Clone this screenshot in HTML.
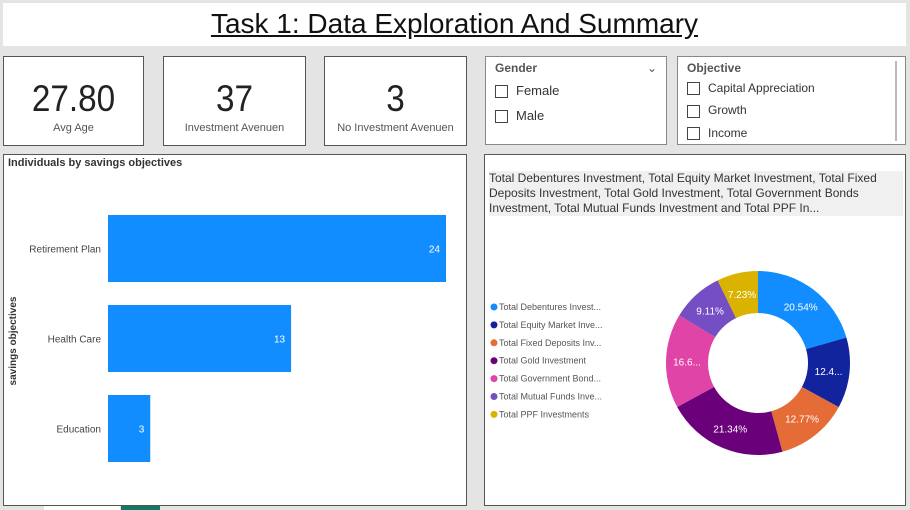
<!DOCTYPE html>
<html><head><meta charset="utf-8"><style>
body{margin:0;width:910px;height:510px;background:#e4e4e4;font-family:"Liberation Sans",sans-serif;position:relative;overflow:hidden}
.abs{position:absolute;box-sizing:border-box}
.card{background:#fff;border:1px solid #555;text-align:center}
.big{font-size:37px;color:#222;margin-top:22px;line-height:40px;transform:scaleX(0.9)}
.lab{font-size:11px;color:#555;margin-top:3px}
.chk{display:inline-block;width:11px;height:11px;border:1px solid #444;vertical-align:middle;margin-right:8px;background:#fff}
</style></head><body>
<div class="abs" style="left:3px;top:3px;width:903px;height:43px;background:#fff;text-align:center;font-size:28px;line-height:42px;color:#111;text-decoration:underline">Task 1: Data Exploration And Summary</div>

<div class="abs card" style="left:3px;top:56px;width:141px;height:90px"><div class="big">27.80</div><div class="lab">Avg Age</div></div>
<div class="abs card" style="left:163px;top:56px;width:143px;height:90px"><div class="big">37</div><div class="lab">Investment Avenuen</div></div>
<div class="abs card" style="left:324px;top:56px;width:143px;height:90px"><div class="big">3</div><div class="lab">No Investment Avenuen</div></div>

<div class="abs" style="left:485px;top:56px;width:182px;height:89px;background:#fff;border:1px solid #888;padding:4px 9px;font-size:13px;color:#333">
<div style="font-weight:bold;font-size:12px;color:#555">Gender<span style="float:right;font-weight:normal">&#8964;</span></div>
<div style="margin-top:8px"><span class="chk"></span>Female</div>
<div style="margin-top:10px"><span class="chk"></span>Male</div></div>

<div class="abs" style="left:677px;top:56px;width:229px;height:89px;background:#fff;border:1px solid #888;padding:4px 9px;font-size:12px;color:#333">
<div style="font-weight:bold;color:#555">Objective</div>
<div style="margin-top:6px"><span class="chk"></span>Capital Appreciation</div>
<div style="margin-top:8px"><span class="chk"></span>Growth</div>
<div style="margin-top:8px"><span class="chk"></span>Income</div>
<div class="abs" style="right:8px;top:4px;width:2px;height:80px;background:#bbb"></div></div>

<div class="abs" style="left:3px;top:154px;width:464px;height:352px;background:#fff;border:1px solid #555">
<div style="position:absolute;left:4px;top:2px;font-size:11px;font-weight:bold;color:#333">Individuals by savings objectives</div>
<svg id="bars" width="462" height="350" style="position:absolute;left:0;top:0"></svg></div>

<div class="abs" style="left:484px;top:154px;width:422px;height:352px;background:#fff;border:1px solid #555">
<div style="position:absolute;left:4px;top:16px;width:414px;font-size:12px;line-height:15px;color:#333;background:#f0f0f0">Total Debentures Investment, Total Equity Market Investment, Total Fixed Deposits Investment, Total Gold Investment, Total Government Bonds Investment, Total Mutual Funds Investment and Total PPF In...</div>
<svg id="donut" width="420" height="350" style="position:absolute;left:0;top:0"></svg></div>
<div class="abs" style="left:44px;top:506px;width:76px;height:4px;background:#fff"></div>
<div class="abs" style="left:121px;top:506px;width:39px;height:4px;background:#117865"></div>

<script>
const NS="http://www.w3.org/2000/svg";
const barCats=["Retirement Plan","Health Care","Education"];
const barVals=[24,13,3];
const sliceLabels=["Total Debentures Invest...","Total Equity Market Inve...","Total Fixed Deposits Inv...","Total Gold Investment","Total Government Bond...","Total Mutual Funds Inve...","Total PPF Investments"];
const sliceVals=[20.54,12.41,12.77,21.34,16.60,9.11,7.23];
const sliceText=["20.54%","12.4...","12.77%","21.34%","16.6...","9.11%","7.23%"];
const sliceColors=["#118dff","#12239e","#e66c37","#6b007b","#e044a7","#744ec2","#d9b300"];
function mk(t,a,p){const e=document.createElementNS(NS,t);for(const k in a)e.setAttribute(k,a[k]);p.appendChild(e);return e;}
// bars
const bs=document.getElementById('bars');
const x0=104,xs=v=>v*338/24, bandTop=60, band=90, bh=67;
const yl=mk('text',{x:12,y:186,'font-size':10,fill:'#333','font-weight':'bold',transform:'rotate(-90 12 186)','text-anchor':'middle'},bs);yl.textContent='savings objectives';

barCats.forEach((c,i)=>{const y=bandTop+i*band;
 const r=mk('rect',{x:x0,y:y,width:xs(barVals[i]),height:bh,fill:'#118dff'},bs);
 
 const t=mk('text',{x:x0-7,y:y+bh/2+4,'font-size':10,fill:'#444','text-anchor':'end'},bs);t.textContent=c;
 
 const v=mk('text',{x:x0+xs(barVals[i])-6,y:y+bh/2+4,'font-size':10,fill:'#fff','text-anchor':'end'},bs);v.textContent=barVals[i];
 
});
// donut
const ds=document.getElementById('donut');
const cx=273,cy=208,R=92,r0=50,tot=sliceVals.reduce((a,b)=>a+b,0);
let a=0;
sliceVals.forEach((v,i)=>{const a1=a+v/tot*2*Math.PI;
 const p=(ang,rr)=>[cx+rr*Math.sin(ang),cy-rr*Math.cos(ang)];
 const [x1,y1]=p(a,R),[x2,y2]=p(a1,R),[x3,y3]=p(a1,r0),[x4,y4]=p(a,r0);const lg=a1-a>Math.PI?1:0;
 const s=mk('path',{d:`M${x1},${y1}A${R},${R} 0 ${lg} 1 ${x2},${y2}L${x3},${y3}A${r0},${r0} 0 ${lg} 0 ${x4},${y4}Z`,fill:sliceColors[i]},ds);
 
 const [lx,ly]=p((a+a1)/2,(R+r0)/2);
 const t=mk('text',{x:lx,y:ly+4,'font-size':10,fill:'#fff','text-anchor':'middle'},ds);t.textContent=sliceText[i];
 
 const ly2=155+i*17.9;
 mk('circle',{cx:9,cy:ly2-3,r:3.5,fill:sliceColors[i]},ds);
 const lt=mk('text',{x:14,y:ly2,'font-size':9,fill:'#555'},ds);lt.textContent=sliceLabels[i];
 
 a=a1;});
</script></body></html>
